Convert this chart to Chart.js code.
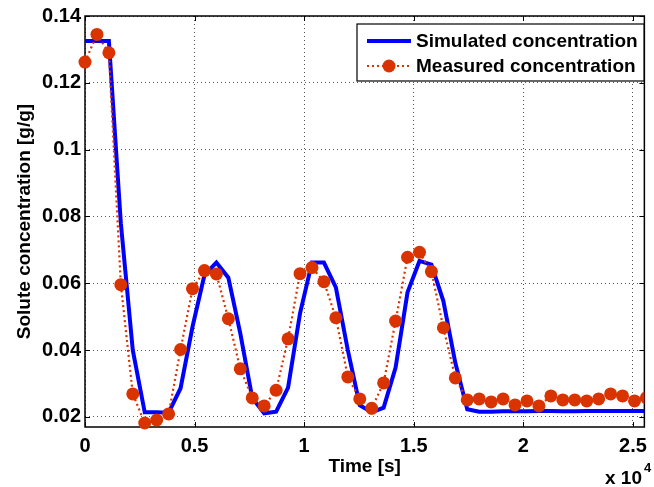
<!DOCTYPE html>
<html>
<head>
<meta charset="utf-8">
<script src="https://cdn.jsdelivr.net/npm/chart.js@4/dist/chart.umd.min.js"></script>
<style>
    html, body { margin: 0; padding: 0; background: #fff; }
    #wrap { width: 654px; height: 487px; }
</style>
</head>
<body>
<div id="wrap"><canvas id="grafico"></canvas></div>
<script>
/*global Chart*/

// tiempo [s]
var tiempos = [0, 545, 1090, 1635, 2180, 2725, 3270, 3815, 4360, 4905, 5450, 5995,
    6540, 7085, 7630, 8175, 8720, 9265, 9810, 10355, 10900, 11445, 11990, 12535,
    13080, 13625, 14170, 14715, 15260, 15805, 16350, 16895, 17440, 17985, 18530, 19075,
    19620, 20165, 20710, 21255, 21800, 22345, 22890, 23435, 23980, 24525, 25070, 25615];

var simulada = [0.1325, 0.1325, 0.1325, 0.078, 0.040, 0.0214, 0.0214, 0.0213, 0.0286, 0.047, 0.0625, 0.0662,
    0.0617, 0.045, 0.0257, 0.0211, 0.0216, 0.0288, 0.051, 0.0662, 0.0662, 0.0588, 0.040, 0.0235,
    0.0214, 0.0228, 0.0348, 0.0573, 0.0667, 0.0656, 0.0547, 0.0362, 0.0223, 0.0216, 0.0216, 0.0217,
    0.0217, 0.0217, 0.0218, 0.0218, 0.0217, 0.0217, 0.0218, 0.0218, 0.0218, 0.0218, 0.0218, 0.0218];

var medida = [0.1262, 0.1345, 0.129, 0.0596, 0.0269, 0.0182, 0.0191, 0.0209, 0.0402, 0.0584, 0.0638, 0.0628,
    0.0494, 0.0344, 0.0257, 0.0233, 0.0280, 0.0434, 0.0629, 0.0647, 0.0605, 0.0497, 0.0320, 0.0254,
    0.0226, 0.0302, 0.0487, 0.0678, 0.0693, 0.0635, 0.0467, 0.0317, 0.0251, 0.0254, 0.0245, 0.0254,
    0.0236, 0.0248, 0.0233, 0.0263, 0.0251, 0.0251, 0.0248, 0.0254, 0.0269, 0.0263, 0.0248, 0.0258];

var ticksX = [0, 5000, 10000, 15000, 20000, 25000];
var etiquetasX = ["0", "0.5", "1", "1.5", "2", "2.5"];
var ticksY = [0.02, 0.04, 0.06, 0.08, 0.1, 0.12, 0.14];
var etiquetasY = ["0.02", "0.04", "0.06", "0.08", "0.1", "0.12", "0.14"];

var fuente = "'Liberation Sans', Arial, sans-serif";
var azul = "#0000ff";
var rojo = "#d93300";

function puntos(ys) {
    return tiempos.map(function (t, i) { return {x: t, y: ys[i]}; });
}

var marco = {
    id: "marco",
    beforeDatasetsDraw: function (chart) {
        var ctx = chart.ctx;
        var a = chart.chartArea;
        var sx = chart.scales.x;
        var sy = chart.scales.y;
        ctx.save();
        ctx.strokeStyle = "#000";
        ctx.lineWidth = 1.5;
        ctx.strokeRect(a.left, a.top, a.right - a.left, a.bottom - a.top);
        ctx.lineWidth = 1;
        ctx.beginPath();
        ticksX.forEach(function (v) {
            var px = Math.round(sx.getPixelForValue(v)) + 0.5;
            ctx.moveTo(px, a.bottom); ctx.lineTo(px, a.bottom - 5);
            ctx.moveTo(px, a.top); ctx.lineTo(px, a.top + 5);
        });
        ticksY.forEach(function (v) {
            var py = Math.round(sy.getPixelForValue(v)) + 0.5;
            ctx.moveTo(a.left, py); ctx.lineTo(a.left + 5, py);
            ctx.moveTo(a.right, py); ctx.lineTo(a.right - 5, py);
        });
        ctx.stroke();
        ctx.restore();
    },
    afterDraw: function (chart) {
        var ctx = chart.ctx;
        var ds = chart.data.datasets;
        ctx.save();
        // leyenda
        ctx.fillStyle = "#fff";
        ctx.fillRect(357, 24, 287, 57);
        ctx.strokeStyle = "#000";
        ctx.lineWidth = 1.2;
        ctx.strokeRect(357, 24, 287, 57);
        ctx.font = "bold 19px " + fuente;
        ctx.textBaseline = "middle";
        ctx.fillStyle = "#000";
        ctx.fillText(ds[0].label, 416, 42);
        ctx.fillText(ds[1].label, 416, 67);
        ctx.strokeStyle = ds[0].borderColor;
        ctx.lineWidth = ds[0].borderWidth;
        ctx.beginPath(); ctx.moveTo(367, 41); ctx.lineTo(411, 41); ctx.stroke();
        ctx.strokeStyle = ds[1].borderColor;
        ctx.lineWidth = ds[1].borderWidth;
        ctx.setLineDash(ds[1].borderDash);
        ctx.beginPath(); ctx.moveTo(367, 66); ctx.lineTo(411, 66); ctx.stroke();
        ctx.setLineDash([]);
        ctx.fillStyle = ds[1].pointBackgroundColor;
        ctx.beginPath(); ctx.arc(389, 66, ds[1].pointRadius, 0, Math.PI * 2); ctx.fill();
        // multiplicador del eje x
        ctx.fillStyle = "#000";
        ctx.textBaseline = "alphabetic";
        ctx.font = "bold 19px " + fuente;
        ctx.fillText("x 10", 605, 484);
        ctx.font = "bold 13px " + fuente;
        ctx.fillText("4", 644, 472);
        ctx.restore();
    }
};

new Chart(document.getElementById("grafico"), {
    type: "line",
    data: {
        datasets: [{
            label: "Simulated concentration",
            data: puntos(simulada),
            borderColor: azul,
            backgroundColor: azul,
            borderWidth: 4,
            pointRadius: 0,
            tension: 0,
            order: 2
        }, {
            label: "Measured concentration",
            data: puntos(medida),
            borderColor: rojo,
            backgroundColor: rojo,
            pointBackgroundColor: rojo,
            pointBorderColor: rojo,
            pointRadius: 6.5,
            pointBorderWidth: 0,
            borderWidth: 2.2,
            borderDash: [2, 3],
            tension: 0,
            clip: {left: 10, top: 10, right: 0, bottom: 10},
            order: 1
        }]
    },
    options: {
        responsive: true,
        maintainAspectRatio: false,
        animation: false,
        layout: {padding: {top: 16, right: 2, left: 0, bottom: 0}},
        plugins: {
            legend: {display: false},
            tooltip: {enabled: false}
        },
        scales: {
            x: {
                type: "linear",
                min: 0,
                max: 25520,
                afterBuildTicks: function (s) {
                    s.ticks = ticksX.map(function (v) { return {value: v}; });
                },
                afterFit: function (s) { s.height = 60; },
                ticks: {
                    color: "#000",
                    padding: 7,
                    maxRotation: 0,
                    font: {family: fuente, size: 20, weight: "bold"},
                    callback: function (v) { return etiquetasX[ticksX.indexOf(v)]; }
                },
                grid: {color: "rgba(0,0,0,0.65)", lineWidth: 1, drawTicks: false},
                border: {display: false, dash: [1, 3]},
                title: {
                    display: true,
                    text: "Time [s]",
                    color: "#000",
                    font: {family: fuente, size: 19, weight: "bold"},
                    padding: {top: 0, bottom: 9}
                }
            },
            y: {
                min: 0.017,
                max: 0.14,
                afterBuildTicks: function (s) {
                    s.ticks = ticksY.map(function (v) { return {value: v}; });
                },
                afterFit: function (s) { s.width = 85; },
                ticks: {
                    color: "#000",
                    padding: 4,
                    font: {family: fuente, size: 20, weight: "bold"},
                    callback: function (v) { return etiquetasY[ticksY.indexOf(v)]; }
                },
                grid: {color: "rgba(0,0,0,0.65)", lineWidth: 1, drawTicks: false},
                border: {display: false, dash: [1, 3]},
                title: {
                    display: true,
                    text: "Solute concentration [g/g]",
                    color: "#000",
                    font: {family: fuente, size: 19, weight: "bold"},
                    padding: {top: 13, bottom: 0}
                }
            }
        }
    },
    plugins: [marco]
});
</script>
</body>
</html>
